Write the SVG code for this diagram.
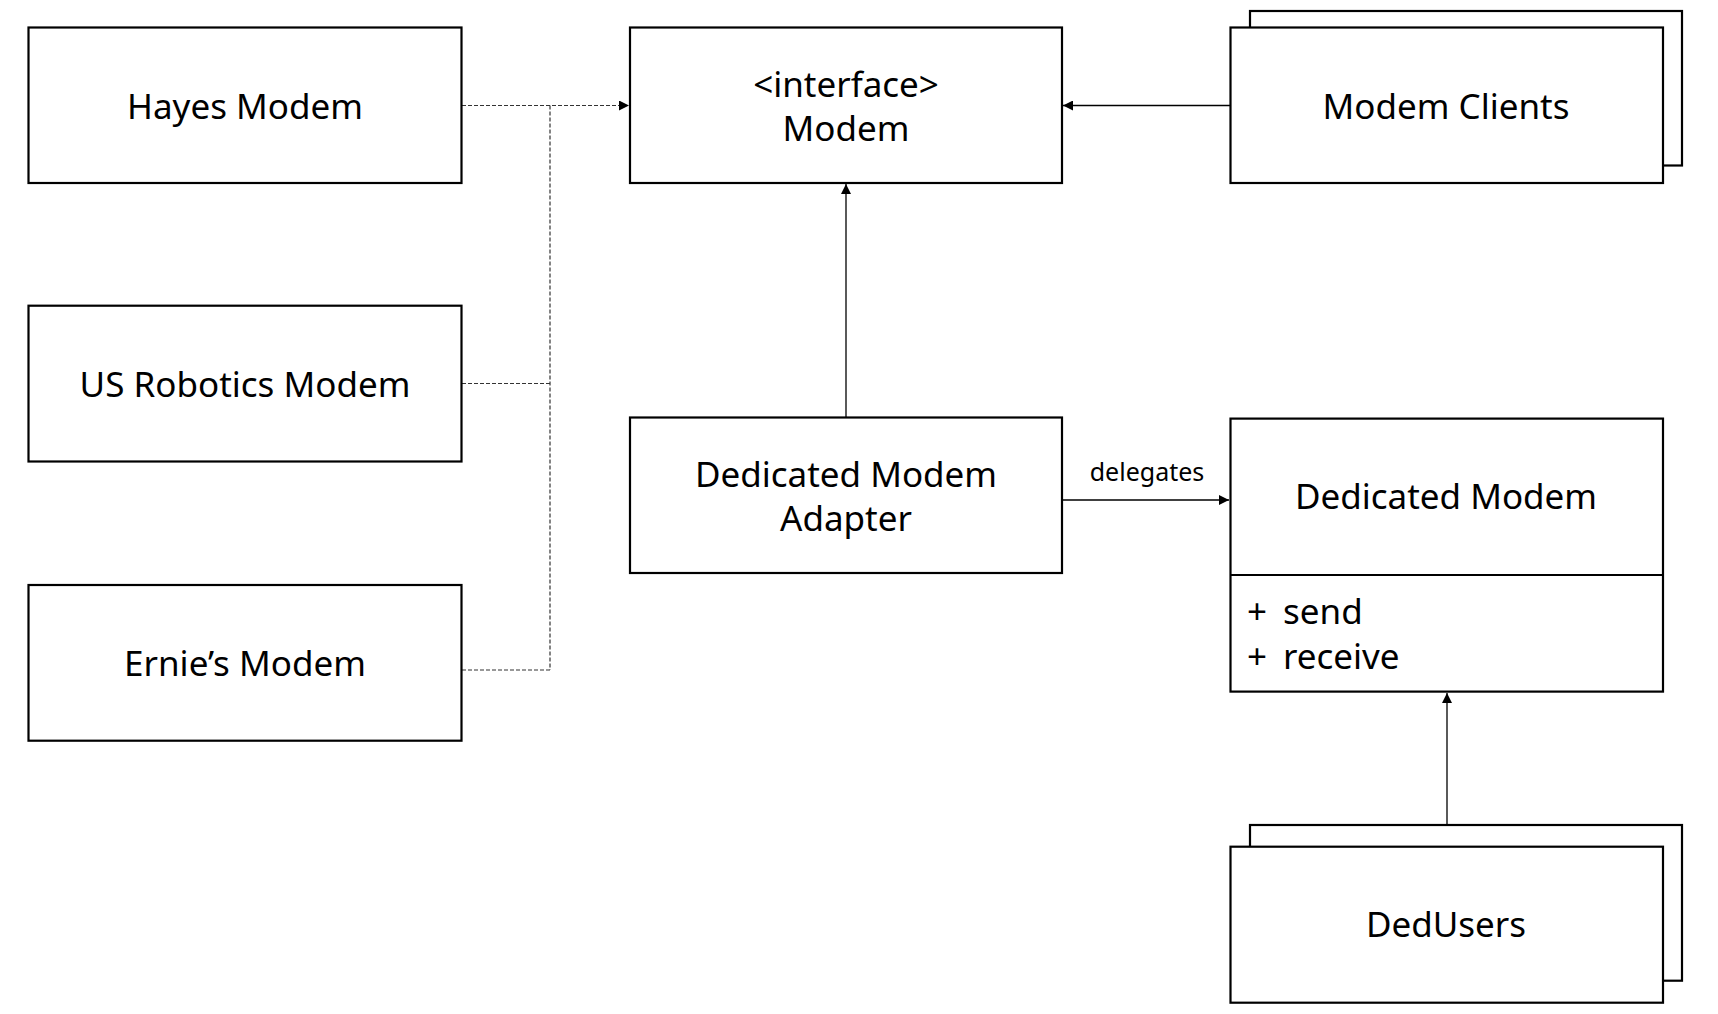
<svg xmlns="http://www.w3.org/2000/svg" width="1718" height="1014" viewBox="0 0 1718 1014">
<defs>
<marker id="arr" viewBox="0 0 10 10" refX="10" refY="5" markerWidth="11" markerHeight="10" markerUnits="userSpaceOnUse" orient="auto">
<path d="M0,0 L10,5 L0,10 Z" fill="#000"/>
</marker>
<style>
.box{fill:#fff;stroke:#000;stroke-width:2.2}
.t{font-family:"Noto Sans","Open Sans",sans-serif;font-size:35px;fill:#000;text-anchor:middle}
.tl{font-family:"Noto Sans","Open Sans",sans-serif;font-size:35px;fill:#000}
.sm{font-family:"Noto Sans","Open Sans",sans-serif;font-size:25px;fill:#000;text-anchor:middle}
.c{fill:none;stroke:#000;stroke-width:1.3}
.d{fill:none;stroke:#333;stroke-width:1.2;stroke-dasharray:4 2}
</style>
</defs>
<rect width="1718" height="1014" fill="#fff"/>
<g id="connectors">
<line class="d" x1="462" y1="105.5" x2="629" y2="105.5" marker-end="url(#arr)"/>
<line class="d" x1="462" y1="383.5" x2="550" y2="383.5"/>
<line class="d" x1="462" y1="670" x2="550" y2="670"/>
<line class="d" x1="550" y1="105.5" x2="550" y2="670"/>
<line class="c" x1="1230" y1="105.5" x2="1063" y2="105.5" marker-end="url(#arr)"/>
<line class="c" x1="846" y1="417" x2="846" y2="184" marker-end="url(#arr)"/>
<line class="c" x1="1062" y1="500" x2="1229" y2="500" marker-end="url(#arr)"/>
<text class="sm" x="1147" y="481">delegates</text>
<line class="c" x1="1447" y1="825" x2="1447" y2="693" marker-end="url(#arr)"/>
</g>
<g id="hayes">
<rect class="box" x="28.5" y="27.5" width="433" height="155.5"/>
<text class="t" x="245" y="119">Hayes Modem</text>
</g>
<g id="usrobotics">
<rect class="box" x="28.5" y="305.7" width="433" height="155.8"/>
<text class="t" x="245" y="396.5">US Robotics Modem</text>
</g>
<g id="ernies">
<rect class="box" x="28.5" y="585" width="433" height="155.7"/>
<text class="t" x="245" y="676">Ernie’s Modem</text>
</g>
<g id="modem-interface">
<rect class="box" x="630" y="27.5" width="432" height="155.5"/>
<text class="t" x="846" y="97">&lt;interface&gt;</text>
<text class="t" x="846" y="141">Modem</text>
</g>
<g id="modem-clients">
<rect class="box" x="1250" y="11" width="432" height="154.5"/>
<rect class="box" x="1230.5" y="27.5" width="432.5" height="155.5"/>
<text class="t" x="1446" y="119">Modem Clients</text>
</g>
<g id="adapter">
<rect class="box" x="630" y="417.5" width="432" height="155.5"/>
<text class="t" x="846" y="487">Dedicated Modem</text>
<text class="t" x="846" y="531">Adapter</text>
</g>
<g id="dedicated-modem">
<rect class="box" x="1230.5" y="418.6" width="432.5" height="273"/>
<line class="box" x1="1230.5" y1="575" x2="1663" y2="575"/>
<text class="t" x="1446" y="509">Dedicated Modem</text>
<text class="tl" x="1247" y="624">+</text>
<text class="tl" x="1283" y="624">send</text>
<text class="tl" x="1247" y="669">+</text>
<text class="tl" x="1283" y="669">receive</text>
</g>
<g id="dedusers">
<rect class="box" x="1250" y="825" width="432" height="155.7"/>
<rect class="box" x="1230.5" y="846.7" width="432.5" height="156"/>
<text class="t" x="1446" y="936.5">DedUsers</text>
</g>
</svg>
